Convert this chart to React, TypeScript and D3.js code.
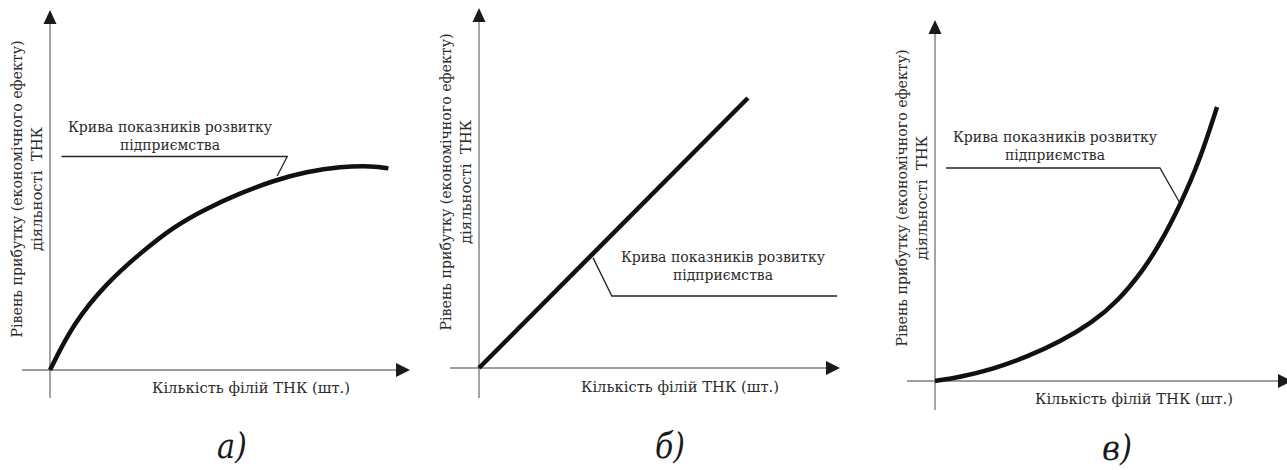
import React from "react";
import * as d3 from "d3";

// ---- data (units are arbitrary 0..100 along each axis) ----
const curveAX = [0, 6.5, 15.7, 25, 34.3, 43.5, 52.8, 62, 71.3, 80.6, 89.8, 94];
const curveAY = [0, 13, 24.1, 32.4, 39.8, 44.9, 49.1, 52.6, 55.1, 56.5, 56.7, 56];
const lineBX = [0, 74.5];
const lineBY = [0, 75];
const curveCX = [0, 7, 16, 25.8, 35, 44.3, 51, 58.3, 63.5, 68.6, 74.2, 79];
const curveCY = [0, 1.1, 3.2, 6.7, 10.8, 16.4, 21.9, 30.6, 38.8, 48.6, 61.2, 75.9];

const yTitleLines = ["Рівень прибутку (економічного ефекту)", "діяльності  ТНК"];
const xTitle = "Кількість філій ТНК (шт.)";
const curveLabel = ["Крива показників розвитку", "підприємства"];
const panelLetters = ["а)", "б)", "в)"];

// leader lines in data units: [point on curve, elbow, end]
const leaderA = [[63.1, 53.9], [65.9, 59.3], [3.2, 59.3]];
const leaderB = [[31.6, 30.6], [36.8, 20], [99.2, 20]];
const leaderC = [[68.6, 49.3], [63.0, 59.0], [3.1, 59.0]];

type Panel = {
  ox: number; oy: number; xEnd: number; yEnd: number;
  xStart: number; yBottom: number;
  xs: number[]; ys: number[];
  leader: number[][];
  labelX: number; labelY: number;
  xTitleX: number; xTitleY: number;
  yTitleY: number;
  letterX: number; letterY: number;
  letter: string;
};

const panels: Panel[] = [
  { ox: 50, oy: 370, xEnd: 410, yEnd: 10, xStart: 22, yBottom: 398,
    xs: curveAX, ys: curveAY, leader: leaderA,
    labelX: 170, labelY: 132, xTitleX: 251, xTitleY: 393, yTitleY: 189,
    letterX: 232, letterY: 458, letter: panelLetters[0] },
  { ox: 479, oy: 368, xEnd: 840, yEnd: 8, xStart: 450, yBottom: 398,
    xs: lineBX, ys: lineBY, leader: leaderB,
    labelX: 723, labelY: 262, xTitleX: 680, xTitleY: 392, yTitleY: 182,
    letterX: 670, letterY: 458, letter: panelLetters[1] },
  { ox: 935, oy: 381, xEnd: 1292, yEnd: 20, xStart: 907, yBottom: 410,
    xs: curveCX, ys: curveCY, leader: leaderC,
    labelX: 1055, labelY: 142, xTitleX: 1134, xTitleY: 404, yTitleY: 198,
    letterX: 1117, letterY: 460, letter: panelLetters[2] },
];

const FONT = "'DejaVu Serif Condensed', 'DejaVu Serif', serif";
const TEXT = "#2b2b2b";
const AXIS = "#7d7d7d";
const FS = 15;

function PanelView({ p }: { p: Panel }) {
  const x = d3.scaleLinear().domain([0, 100]).range([p.ox, p.xEnd]);
  const y = d3.scaleLinear().domain([0, 100]).range([p.oy, p.yEnd]);
  const pts = p.xs.map((v, i) => [v, p.ys[i]] as [number, number]);
  const line = d3
    .line<[number, number]>()
    .x((d) => x(d[0]))
    .y((d) => y(d[1]))
    .curve(d3.curveBasis);
  const leaderPath = d3
    .line<number[]>()
    .x((d) => x(d[0]))
    .y((d) => y(d[1]))(p.leader);
  const xTip = x(100);
  const yTip = y(100);
  const common = { fontFamily: FONT, fontSize: FS, fill: TEXT, lengthAdjust: "spacingAndGlyphs" as const };
  return (
    <g>
      <line x1={p.xStart} x2={xTip - 10} y1={y(0)} y2={y(0)} stroke={AXIS} strokeWidth={1.4} />
      <line x1={x(0)} x2={x(0)} y1={p.yBottom} y2={yTip + 10} stroke={AXIS} strokeWidth={1.4} />
      <path d={`M${xTip},${y(0)} L${xTip - 14},${y(0) - 7} L${xTip - 14},${y(0) + 7} Z`} fill="#1a1a1a" />
      <path d={`M${x(0)},${yTip} L${x(0) - 6.5},${yTip + 14} L${x(0) + 6.5},${yTip + 14} Z`} fill="#1a1a1a" />
      <path d={leaderPath || ""} fill="none" stroke="#222" strokeWidth={1.3} />
      <path d={line(pts) || ""} fill="none" stroke="#111" strokeWidth={4.5} strokeLinecap="butt" />
      <text x={p.labelX} y={p.labelY} textAnchor="middle" textLength={204} {...common}>
        {curveLabel[0]}
      </text>
      <text x={p.labelX} y={p.labelY + 18} textAnchor="middle" textLength={100} {...common}>
        {curveLabel[1]}
      </text>
      <text x={p.xTitleX} y={p.xTitleY} textAnchor="middle" textLength={198} {...common}>
        {xTitle}
      </text>
      <text transform={`translate(${x(0) - 28},${p.yTitleY}) rotate(-90)`} textAnchor="middle"
        textLength={297} {...common}>
        {yTitleLines[0]}
      </text>
      <text transform={`translate(${x(0) - 8},${p.yTitleY}) rotate(-90)`} textAnchor="middle"
        textLength={124} {...common} style={{ whiteSpace: "pre" }}>
        {yTitleLines[1]}
      </text>
      <text x={p.letterX} y={p.letterY} textAnchor="middle" fontFamily={FONT} fontStyle="italic"
        fontSize={36} fill="#1a1a1a" textLength={30} lengthAdjust="spacingAndGlyphs">
        {p.letter}
      </text>
    </g>
  );
}

export default function App() {
  return (
    <svg width={1287} height={470} viewBox="0 0 1287 470"
      style={{ position: "absolute", left: 0, top: 0, background: "#fff" }}>
      <rect x={0} y={0} width={1287} height={470} fill="#fff" />
      {panels.map((p, i) => (
        <PanelView key={i} p={p} />
      ))}
    </svg>
  );
}
